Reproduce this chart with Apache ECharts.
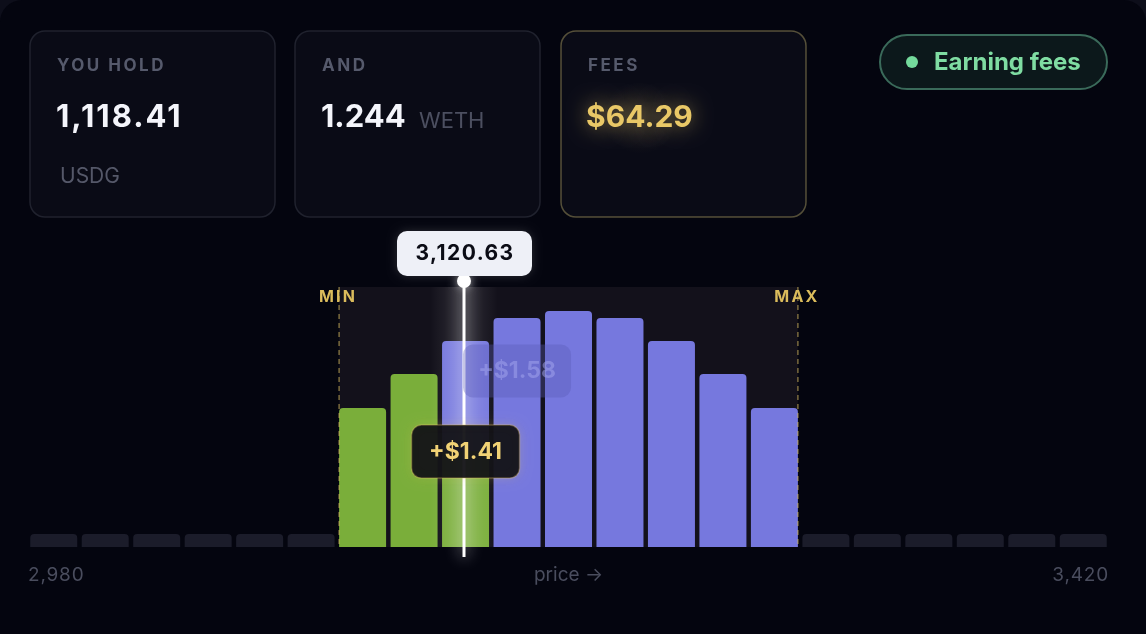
<!DOCTYPE html>
<html><head><meta charset="utf-8">
<script src="https://cdn.jsdelivr.net/npm/echarts@6/dist/echarts.min.js"></script>
<style>html,body{margin:0;padding:0;background:#0d0e1a;}#c{width:1146px;height:634px;}</style>
</head><body><div id="c"></div>
<script>
// ---- data ----
const bins = ['b1','b2','b3','b4','b5','b6','b7','b8','b9','b10','b11','b12','b13','b14','b15','b16','b17','b18','b19','b20','b21'];
const outOfRange = [5,5,5,5,5,5,'-','-','-','-','-','-','-','-','-',5,5,5,5,5,5];
const earnedLiquidity = ['-','-','-','-','-','-',53.5,66.5,36.9,'-','-','-','-','-','-','-','-','-','-','-','-'];
const idleLiquidity = ['-','-','-','-','-','-','-','-',42.3,88.1,90.8,88.1,79.2,66.5,53.5,'-','-','-','-','-','-'];
const rangeBins = [6, 15];
const rangeLabels = ['MIN', 'MAX'];
const pricePosition = 8.47;
const priceLabel = '3,120.63';
const popupBins = [8, 9];
const popupLevels = [36.7, 67.7];
const popupTexts = ['+$1.41', '+$1.58'];
const tickLabels = ['2,980', 'price →', '3,420'];
const cardLabels = ['YOU HOLD', 'AND', 'FEES'];
const cardValues = ['1,118.41', '1.244', '$64.29'];
const cardUnits = ['USDG', 'WETH', ''];
const statusText = 'Earning fees';

// letter spacing for a few texts (canvas letterSpacing)
const SPACING = {'YOU HOLD': 2.5, 'AND': 2.5, 'FEES': 2.5, 'MIN': 2.2, 'MAX': 2.2, '1,118.41': 2.0, '3,120.63': 1.4, '2,980': 0.8, '3,420': 0.8};
(function () {
  const P = CanvasRenderingContext2D.prototype;
  if (!('letterSpacing' in P)) return;
  const orig = P.fillText;
  P.fillText = function (t, x, y, w) {
    const s = SPACING[t] || 0;
    const f = this.font;
    this.letterSpacing = s + 'px';
    this.font = f;
    const r = (w === undefined) ? orig.call(this, t, x, y) : orig.call(this, t, x, y, w);
    this.letterSpacing = '0px';
    this.font = f;
    return r;
  };
})();

// ---- chart ----
const FONT = 'Inter, "Noto Sans", sans-serif';
const BAR_W = 47;
const chart = echarts.init(document.getElementById('c'), null, {renderer: 'canvas'});

function yTopBot(api) {
  return [api.coord([0, 100])[1], api.coord([0, 0])[1]];
}

const cardX = [30, 295, 561];
const graphics = [
  {type: 'rect', z: -10, shape: {x: 0, y: 0, width: 1146, height: 680, r: 22}, style: {fill: '#04050f'}}
];
cardX.forEach((x, i) => {
  graphics.push({type: 'rect', z: -5, shape: {x: x, y: 31, width: 245, height: 186, r: 15},
    style: {fill: '#0a0b16', stroke: i === 2 ? 'rgba(214,196,120,0.38)' : '#20222e', lineWidth: 1.5}});
  graphics.push({type: 'text', z: -4, x: x + 27, y: 66, style: {text: cardLabels[i], font: 'bold 17px ' + FONT, fill: '#565a6c', verticalAlign: 'middle'}});
});
// soft glow behind fees value
graphics.push({type: 'rect', z: -4.5, shape: {x: 566, y: 82, width: 150, height: 72},
  style: {fill: new echarts.graphic.RadialGradient(0.5, 0.5, 0.5, [
    {offset: 0, color: 'rgba(233,200,103,0.10)'}, {offset: 1, color: 'rgba(233,200,103,0)'}])}});
graphics.push({type: 'text', z: -4, x: 56, y: 118, style: {text: cardValues[0], font: 'bold 31px ' + FONT, fill: '#f4f5fb', verticalAlign: 'middle'}});
graphics.push({type: 'text', z: -4, x: 60, y: 177, style: {text: cardUnits[0], font: '21px ' + FONT, fill: '#555869', verticalAlign: 'middle'}});
graphics.push({type: 'text', z: -4, x: 321, y: 118, style: {text: cardValues[1], font: 'bold 31px ' + FONT, fill: '#f4f5fb', verticalAlign: 'middle'}});
graphics.push({type: 'text', z: -4, x: 419, y: 121, style: {text: cardUnits[1], font: '22px ' + FONT, fill: '#4c4f60', verticalAlign: 'middle'}});
graphics.push({type: 'text', z: -4, x: 586, y: 118, style: {text: cardValues[2], font: 'bold 30px ' + FONT, fill: '#e9c867', verticalAlign: 'middle',
  shadowBlur: 20, shadowColor: 'rgba(233,200,103,0.6)', textShadowBlur: 20, textShadowColor: 'rgba(233,200,103,0.6)'}});
graphics.push({type: 'rect', z: -5, shape: {x: 880, y: 35, width: 227, height: 54, r: 27}, style: {fill: '#0c181b', stroke: '#3a6a5a', lineWidth: 2}});
graphics.push({type: 'circle', z: -4, shape: {cx: 912, cy: 62, r: 6}, style: {fill: '#74da9c'}});
graphics.push({type: 'text', z: -4, x: 934, y: 63, style: {text: statusText, font: 'bold 24px ' + FONT, fill: '#7fdca2', verticalAlign: 'middle'}});

const option = {
  backgroundColor: 'transparent',
  animation: false,
  graphic: graphics,
  grid: {left: 28, right: 37, top: 287, bottom: 87},
  xAxis: [
    {type: 'category', data: bins, show: false},
    {type: 'value', min: 0, max: 21, interval: 10.5, position: 'bottom',
      axisLine: {show: false}, axisTick: {show: false}, splitLine: {show: false},
      axisLabel: {margin: 19, color: '#4a4d5e', fontSize: 19, fontFamily: FONT,
        showMinLabel: true, showMaxLabel: true, alignMinLabel: 'left', alignMaxLabel: 'right',
        formatter: v => tickLabels[Math.round(v / 10.5)]}}
  ],
  yAxis: {type: 'value', min: 0, max: 100, show: false},
  series: [
    { // range band
      type: 'custom', xAxisIndex: 1, z: 1, silent: true,
      data: [[rangeBins[0], rangeBins[1]]],
      renderItem: (params, api) => {
        const half = (api.size([1, 0])[0] - BAR_W) / 2;
        const [yt, yb] = yTopBot(api);
        const x0 = api.coord([api.value(0), 0])[0] + half;
        const x1 = api.coord([api.value(1), 0])[0] - half;
        return {type: 'rect', shape: {x: x0, y: yt, width: x1 - x0, height: yb - yt}, style: {fill: '#13111b'}};
      }
    },
    {type: 'bar', name: 'outside', stack: 'liq', barWidth: BAR_W, z: 2,
      itemStyle: {color: '#1b1c2a', borderRadius: [4, 4, 0, 0]}, data: outOfRange},
    {type: 'bar', name: 'earned', stack: 'liq', barWidth: BAR_W, z: 2,
      data: earnedLiquidity.map((v, i) => ({value: v, itemStyle: {color: '#7aae3a', borderRadius: idleLiquidity[i] === '-' ? [4, 4, 0, 0] : 0}}))},
    {type: 'bar', name: 'idle', stack: 'liq', barWidth: BAR_W, z: 2,
      itemStyle: {color: '#7678de', borderRadius: [4, 4, 0, 0]}, data: idleLiquidity},
    { // range edges
      type: 'custom', xAxisIndex: 1, z: 5, silent: true,
      data: rangeBins.map(b => [b]),
      renderItem: (params, api) => {
        const i = params.dataIndex;
        const half = (api.size([1, 0])[0] - BAR_W) / 2;
        const x = api.coord([api.value(0), 0])[0] + (i === 0 ? half : -half);
        const [yt, yb] = yTopBot(api);
        return {type: 'group', children: [
          {type: 'line', shape: {x1: x, y1: yt, x2: x, y2: yb}, style: {stroke: 'rgba(214,186,96,0.55)', lineWidth: 1.5, lineDash: [5, 4]}},
          {type: 'text', x: x - 1, y: yt + 10, style: {text: rangeLabels[i], font: 'bold 16px ' + FONT, fill: '#dbbc5c', align: 'center', verticalAlign: 'middle'}}
        ]};
      }
    },
    { // price line
      type: 'custom', xAxisIndex: 1, z: 6, silent: true,
      data: [[pricePosition]],
      renderItem: (params, api) => {
        const x = api.coord([api.value(0), 0])[0];
        const [yt, yb] = yTopBot(api);
        return {type: 'group', children: [
          {type: 'rect', shape: {x: x - 34, y: yt, width: 68, height: yb - yt},
            style: {fill: new echarts.graphic.LinearGradient(0, 0, 1, 0, [
              {offset: 0, color: 'rgba(255,255,255,0)'}, {offset: 0.5, color: 'rgba(255,255,255,0.13)'}, {offset: 1, color: 'rgba(255,255,255,0)'}])}},
          {type: 'line', shape: {x1: x, y1: yt - 6, x2: x, y2: yb + 10}, style: {stroke: '#ffffff', lineWidth: 3, shadowBlur: 16, shadowColor: 'rgba(255,255,255,0.95)'}},
          {type: 'circle', shape: {cx: x, cy: yt - 6, r: 7}, style: {fill: '#ffffff', shadowBlur: 8, shadowColor: 'rgba(255,255,255,0.6)'}}
        ]};
      }
    },
    { // fee popups
      type: 'custom', xAxisIndex: 1, z: 7, silent: true,
      data: popupBins.map((b, i) => [b + 0.5, popupLevels[i]]),
      renderItem: (params, api) => {
        const i = params.dataIndex;
        const c = api.coord([api.value(0), api.value(1)]);
        const active = i === 0;
        return {type: 'group', children: [
          {type: 'rect', shape: {x: c[0] - 54, y: c[1] - 26.5, width: 108, height: 53, r: 10},
            style: active ? {fill: 'rgba(17,17,22,0.94)', stroke: 'rgba(226,196,104,0.32)', lineWidth: 1.5, shadowBlur: 12, shadowColor: 'rgba(226,196,104,0.25)'}
                          : {fill: 'rgba(88,90,180,0.35)'}},
          {type: 'text', x: c[0], y: c[1], style: {text: popupTexts[i], font: 'bold 23px ' + FONT,
            fill: active ? '#f1d275' : 'rgba(165,168,240,0.5)', align: 'center', verticalAlign: 'middle'}}
        ]};
      }
    },
    { // price tooltip
      type: 'custom', xAxisIndex: 1, z: 8, silent: true,
      data: [[pricePosition]],
      renderItem: (params, api) => {
        const x = api.coord([api.value(0), 0])[0];
        const [yt] = yTopBot(api);
        return {type: 'group', children: [
          {type: 'rect', shape: {x: x - 67, y: yt - 56, width: 135, height: 45, r: 10}, style: {fill: '#eef0f7', shadowBlur: 10, shadowColor: 'rgba(255,255,255,0.15)'}},
          {type: 'text', x: x + 1, y: yt - 33, style: {text: priceLabel, font: 'bold 21px ' + FONT, fill: '#0b0c15', align: 'center', verticalAlign: 'middle'}}
        ]};
      }
    }
  ]
};
chart.setOption(option);
</script>
</body></html>
